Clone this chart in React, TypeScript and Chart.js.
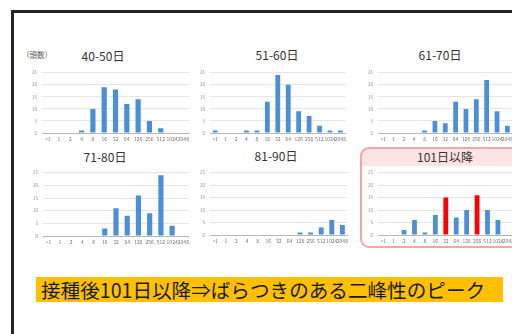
import { useEffect, useRef } from 'react';
import { Chart, registerables } from 'chart.js';

Chart.register(...registerables);

// Antibody-titre bins shared by every panel
const categories = ['<1', '1', '2', '4', '8', '16', '32', '64', '128', '256', '512', '1024', '2048'];
const yTicks = [0, 5, 10, 15, 20, 25];

// Head counts per titre bin, one series per interval after vaccination
const heads40to50 = [0, 0, 0, 1, 10, 19, 18, 12, 14, 5, 2, 0, 0];
const heads51to60 = [1, 0, 0, 1, 1, 13, 24, 20, 9, 7, 3, 1, 1];
const heads61to70 = [0, 0, 0, 0, 1, 5, 4, 13, 10, 14, 22, 9, 3];
const heads71to80 = [0, 0, 0, 0, 0, 3, 11, 8, 16, 9, 24, 4, 0];
const heads81to90 = [0, 0, 0, 0, 0, 0, 0, 0, 1, 1, 3, 6, 4];
const heads101plus = [0, 0, 2, 6, 1, 8, 15, 7, 10, 16, 10, 6, 0];

const panelTitles = ['40-50日', '51-60日', '61-70日', '71-80日', '81-90日', '101日以降'];
const peakCategories = ['32', '256'];
const unitLabel = '（頭数）';
const headline = '接種後101日以降⇒ばらつきのある二峰性のピーク';

const FONT = '"Noto Sans CJK JP", "Noto Sans", sans-serif';
const BLUE = '#4a8fd8';
const RED = '#ff0000';

// Plot-area boxes (page pixels) and title anchors for the 3x2 grid
const panelBoxes = [
  { left: 42, right: 190, top: 69, bottom: 133, titleX: 103, titleY: 56 },
  { left: 210, right: 347, top: 69, bottom: 133, titleX: 277, titleY: 55 },
  { left: 378, right: 514, top: 69, bottom: 133, titleX: 440, titleY: 55 },
  { left: 43, right: 190, top: 169, bottom: 236, titleX: 105, titleY: 157 },
  { left: 210, right: 349, top: 169, bottom: 235, titleX: 276, titleY: 156 },
  { left: 378, right: 515, top: 169, bottom: 235, titleX: 445, titleY: 157 },
];

const Y_AXIS_W = 14;
const X_AXIS_H = 11;
const PAD_TOP = 4;
const PAD_RIGHT = 2;

type Box = (typeof panelBoxes)[number];

function BarPanel({ values, colors, box }: { values: number[]; colors: string | string[]; box: Box }) {
  const ref = useRef<HTMLCanvasElement>(null);

  useEffect(() => {
    const chart = new Chart(ref.current!, {
      type: 'bar',
      data: {
        labels: categories,
        datasets: [
          {
            data: values,
            backgroundColor: colors,
            barPercentage: 0.46,
            categoryPercentage: 1,
          },
        ],
      },
      options: {
        responsive: false,
        animation: false,
        events: [],
        layout: { padding: { top: PAD_TOP, right: PAD_RIGHT, left: 0, bottom: 0 } },
        plugins: { legend: { display: false }, tooltip: { enabled: false } },
        scales: {
          x: {
            grid: { display: true, drawOnChartArea: false, drawTicks: false, color: 'rgba(0,0,0,0)' },
            border: { color: '#b8b8b8', width: 1 },
            ticks: {
              display: true,
              autoSkip: false,
              maxRotation: 0,
              minRotation: 0,
              padding: 3,
              color: '#6f6f6f',
              font: { size: 5, family: FONT },
            },
            afterFit: (s: any) => {
              s.height = X_AXIS_H;
            },
          },
          y: {
            min: 0,
            max: 25,
            afterBuildTicks: (s: any) => {
              s.ticks = yTicks.map((v) => ({ value: v }));
            },
            grid: { color: '#dedede', lineWidth: 0.8, drawTicks: false },
            border: { display: false },
            ticks: {
              padding: 5,
              color: '#8c8c8c',
              font: { size: 4.5, family: FONT },
            },
            afterFit: (s: any) => {
              s.width = Y_AXIS_W;
            },
          },
        },
      },
    });
    return () => chart.destroy();
  }, [values, colors]);

  const width = box.right - box.left + Y_AXIS_W + PAD_RIGHT;
  const height = box.bottom - box.top + PAD_TOP + X_AXIS_H;
  return (
    <canvas
      ref={ref}
      width={width}
      height={height}
      style={{ position: 'absolute', left: box.left - Y_AXIS_W, top: box.top - PAD_TOP, width, height }}
    />
  );
}

const seriesList = [heads40to50, heads51to60, heads61to70, heads71to80, heads81to90, heads101plus];

export default function App() {
  const peakColors = categories.map((c) => (peakCategories.includes(c) ? RED : BLUE));

  return (
    <div
      style={{
        position: 'fixed',
        left: 0,
        top: 0,
        width: 512,
        height: 334,
        overflow: 'hidden',
        background: '#ffffff',
        fontFamily: FONT,
      }}
    >
      {/* slide frame */}
      <div
        style={{
          position: 'absolute',
          left: 11,
          top: 10,
          width: 600,
          height: 400,
          borderTop: '3px solid #262626',
          borderLeft: '3px solid #262626',
        }}
      />

      {/* highlight box around the 101+ day panel */}
      <div
        style={{
          position: 'absolute',
          left: 360,
          top: 147,
          width: 180,
          height: 97,
          border: '2px solid #f3a6a6',
          borderRadius: 9,
          background: 'linear-gradient(#fde3e3 0px, #fde3e3 17px, #ffffff 17px)',
        }}
      />

      <div
        style={{
          position: 'absolute',
          left: 22,
          top: 49,
          fontSize: 7.5,
          color: '#595959',
          whiteSpace: 'nowrap',
        }}
      >
        {unitLabel}
      </div>

      {panelBoxes.map((box, i) => (
        <div
          key={'t' + i}
          style={{
            position: 'absolute',
            left: box.titleX,
            top: box.titleY,
            transform: 'translate(-50%, -50%)',
            fontSize: 12,
            lineHeight: '14px',
            color: '#333333',
            whiteSpace: 'nowrap',
          }}
        >
          {panelTitles[i]}
        </div>
      ))}

      {panelBoxes.map((box, i) => (
        <BarPanel key={'c' + i} values={seriesList[i]} colors={i === 5 ? peakColors : BLUE} box={box} />
      ))}

      {/* conclusion banner */}
      <div
        style={{
          position: 'absolute',
          left: 36,
          top: 277,
          width: 467,
          height: 25,
          background: '#ffc000',
          color: '#1a1a1a',
          fontSize: 19.6,
          lineHeight: '25px',
          paddingLeft: 5,
          boxSizing: 'border-box',
          whiteSpace: 'nowrap',
          overflow: 'hidden',
        }}
      >
        {headline}
      </div>
    </div>
  );
}
